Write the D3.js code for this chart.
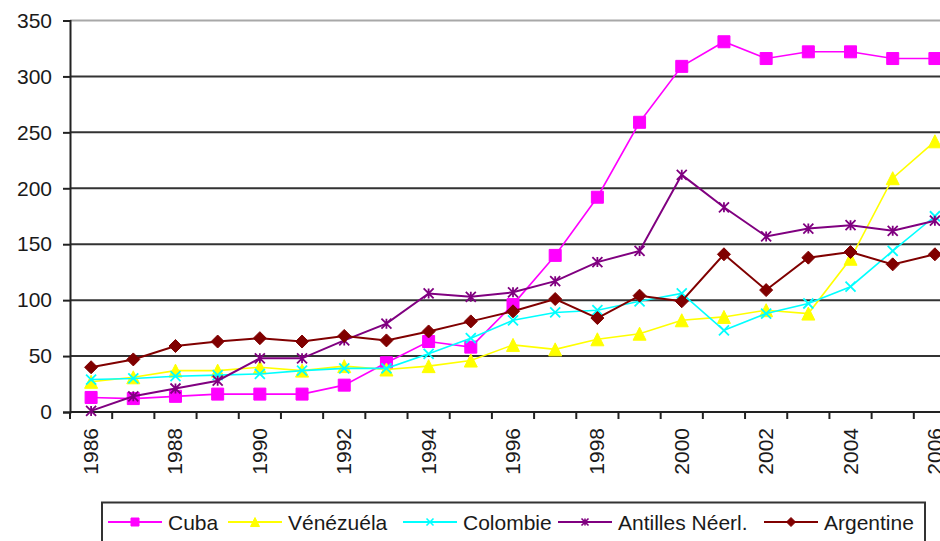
<!DOCTYPE html>
<html>
<head>
<meta charset="utf-8">
<script src="https://cdn.jsdelivr.net/npm/d3@7"></script>
<style>
  html, body { margin: 0; padding: 0; background: #fff; overflow: hidden; }
  svg { display: block; }
  text { font-family: Arial, "Liberation Sans", sans-serif; fill: #1a1a1a; }
</style>
</head>
<body>
<svg id="chart" width="940" height="541"></svg>
<script>
const years = d3.range(1986, 2007).map(String);
const yTicks = [0, 50, 100, 150, 200, 250, 300, 350];
const xTickLabels = ["1986","1988","1990","1992","1994","1996","1998","2000","2002","2004","2006"];

const seriesNames = ["Cuba", "Vénézuéla", "Colombie", "Antilles Néerl.", "Argentine"];
const cuba      = [13, 12, 14, 16, 16, 16, 24, 44, 63, 58, 96, 140, 192, 259, 309, 331, 316, 322, 322, 316, 316];
const venezuela = [27, 31, 37, 37, 40, 37, 41, 38, 41, 46, 60, 56, 65, 70, 82, 85, 91, 88, 137, 209, 242];
const colombie  = [29, 30, 32, 33, 34, 37, 39, 39, 52, 66, 82, 89, 91, 99, 106, 73, 88, 97, 112, 144, 175];
const antilles  = [1, 14, 21, 28, 48, 48, 64, 79, 106, 103, 107, 117, 134, 144, 212, 183, 157, 164, 167, 162, 171];
const argentine = [40, 47, 59, 63, 66, 63, 68, 64, 72, 81, 90, 101, 84, 104, 99, 141, 109, 138, 143, 132, 141];

const seriesValues = [cuba, venezuela, colombie, antilles, argentine];
const seriesColors = ["#FF00FF", "#FFFF00", "#00FFFF", "#800080", "#800000"];
const seriesMarkers = ["square", "triangle", "x", "star", "diamond"];

(function () {
const svg = d3.select("#chart");
const pLeft = 70, pRight = 956, pTop = 20.5, pBottom = 412;

const x = d3.scaleBand().domain(years).range([pLeft, pRight]).padding(0);
const y = d3.scaleLinear().domain([0, 350]).range([pBottom, pTop]);

// gridlines
svg.append("g")
  .selectAll("line")
  .data(yTicks.filter(d => d > 0))
  .join("line")
  .attr("x1", pLeft).attr("x2", pRight)
  .attr("y1", d => y(d)).attr("y2", d => y(d))
  .attr("stroke", d => d === 350 ? "#a8a8a8" : "#333")
  .attr("stroke-width", 2);

// y axis
const yAxis = d3.axisLeft(y).tickValues(yTicks).tickSize(7).tickPadding(11).tickFormat(d3.format("d"));
const gy = svg.append("g").attr("transform", `translate(${pLeft},0)`).call(yAxis);
gy.select(".domain").attr("stroke", "#222").attr("stroke-width", 2);
gy.selectAll(".tick line").attr("stroke", "#222").attr("stroke-width", 2);
gy.selectAll(".tick text").style("font-size", "21px").style("font-family", "Arial, 'Liberation Sans', sans-serif").attr("fill", "#1a1a1a");

// x axis line
svg.append("line").attr("x1", pLeft).attr("x2", pRight).attr("y1", pBottom).attr("y2", pBottom)
  .attr("stroke", "#222").attr("stroke-width", 2);
// ticks at category boundaries
svg.append("g").selectAll("line")
  .data(years.concat(["end"]))
  .join("line")
  .attr("x1", d => d === "end" ? pRight : x(d))
  .attr("x2", d => d === "end" ? pRight : x(d))
  .attr("y1", pBottom).attr("y2", pBottom + 7)
  .attr("stroke", "#222").attr("stroke-width", 2);
// labels
svg.append("g").selectAll("text")
  .data(xTickLabels)
  .join("text")
  .attr("transform", d => `translate(${x(d) + x.bandwidth() / 2 + 7},${pBottom + 16}) rotate(-90)`)
  .attr("text-anchor", "end")
  .style("font-size", "21px")
  .text(d => d);

function markerPath(type, s) {
  const h = s / 2;
  switch (type) {
    case "square": return `M${-h},${-h}H${h}V${h}H${-h}Z`;
    case "triangle": return `M0,${-h}L${h},${h}L${-h},${h}Z`;
    case "diamond": return `M0,${-h}L${h},0L0,${h}L${-h},0Z`;
    case "x": return `M${-h},${-h}L${h},${h}M${-h},${h}L${h},${-h}`;
    case "star": return `M${-h},${-h}L${h},${h}M${-h},${h}L${h},${-h}M0,${-h}V${h}`;
  }
}
const markerSize = { square: 12, triangle: 13, diamond: 13, x: 10, star: 10 };
const legendMarkerSize = { square: 8, triangle: 9, diamond: 9, x: 7, star: 7 };

const line = d3.line().x((d, i) => x(years[i]) + x.bandwidth() / 2).y(d => y(d));

seriesValues.forEach((vals, si) => {
  const color = seriesColors[si];
  const type = seriesMarkers[si];
  const g = svg.append("g");
  g.append("path").attr("d", line(vals)).attr("fill", "none")
    .attr("stroke", color).attr("stroke-width", si >= 3 ? 2 : 1.6);
  const filled = type === "square" || type === "triangle" || type === "diamond";
  g.selectAll("path.m").data(vals).join("path").attr("class", "m")
    .attr("transform", (d, i) => `translate(${x(years[i]) + x.bandwidth() / 2},${y(d)})`)
    .attr("d", markerPath(type, markerSize[type]))
    .attr("fill", filled ? color : "none")
    .attr("stroke", color)
    .attr("stroke-width", filled ? 1 : 1.8);
});

// legend
const lg = svg.append("g");
lg.append("rect").attr("x", 102).attr("y", 502.5).attr("width", 823).attr("height", 60)
  .attr("fill", "#fff").attr("stroke", "#333").attr("stroke-width", 2);
const legendX = [108, 228, 403, 558, 764];
seriesNames.forEach((name, si) => {
  const x0 = legendX[si], cy = 522;
  const color = seriesColors[si], type = seriesMarkers[si];
  lg.append("line").attr("x1", x0).attr("x2", x0 + 54).attr("y1", cy).attr("y2", cy)
    .attr("stroke", color).attr("stroke-width", 2);
  const filled = type === "square" || type === "triangle" || type === "diamond";
  lg.append("path").attr("transform", `translate(${x0 + 27},${cy})`)
    .attr("d", markerPath(type, legendMarkerSize[type]))
    .attr("fill", filled ? color : "none").attr("stroke", color).attr("stroke-width", filled ? 1 : 1.6);
  lg.append("text").attr("x", x0 + 60).attr("y", cy).attr("dy", "0.36em")
    .style("font-size", "21px").text(name);
});
})();
</script>
</body>
</html>
